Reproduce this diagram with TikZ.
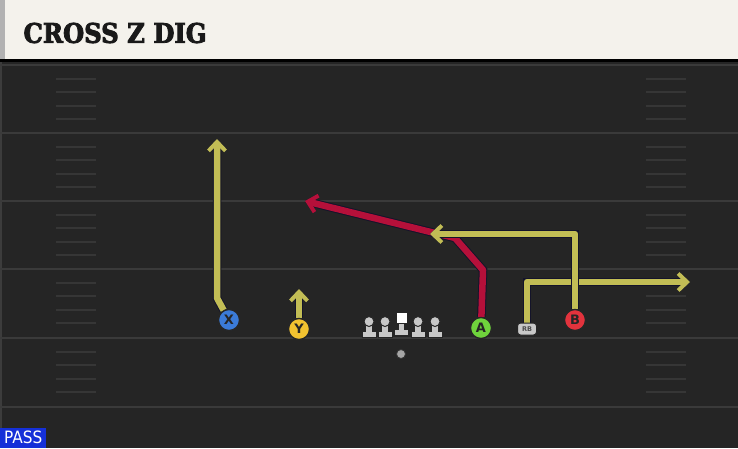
\documentclass[tikz,border=0pt]{standalone}
\usepackage{fontspec}
\setmainfont{DejaVu Sans}
\newfontfamily\titlefont{DejaVu Serif Condensed}[BoldFeatures={FakeBold=3}]
\newfontfamily\tagfont{DejaVu Sans Condensed}
\usepackage{tikz}
\usetikzlibrary{positioning}
\usetikzlibrary{arrows.meta}
\usetikzlibrary{backgrounds}
\usepackage{xcolor}

\definecolor{field}{HTML}{252525}
\definecolor{yardline}{HTML}{3A3A3A}
\definecolor{hashline}{HTML}{363636}
\definecolor{banner}{HTML}{F4F2EC}
\definecolor{routeyellow}{HTML}{C2BD55}
\definecolor{routered}{HTML}{B5103A}
\definecolor{routeedge}{HTML}{14142A}
\definecolor{xblue}{HTML}{3B7BD8}
\definecolor{yyellow}{HTML}{F2C230}
\definecolor{agreen}{HTML}{6FD43C}
\definecolor{bred}{HTML}{E2333D}
\definecolor{lineman}{HTML}{C8C8C8}
\definecolor{passblue}{HTML}{1530D8}

\begin{document}
\begin{tikzpicture}[x=1pt, y=-1pt,
    player/.style={circle, draw=black!85, line width=1.3pt, minimum size=21pt, inner sep=0pt,
                   font=\bfseries\fontsize{13}{13}\selectfont, text=black!85},
    route/.style={line width=6.5pt, line join=round,
                  preaction={draw=routeedge, line width=8.5pt},
                  -{Straight Barb[length=9pt, width=17pt, line width=4pt]}},
    hash/.style={draw=hashline, line width=2pt},
    blocker/.style={fill=lineman, draw=black!85, line width=1pt}]
    \useasboundingbox (0,0) rectangle (738,448);

    % Players
    \node (X) [player, fill=xblue] at (229,320) {X};
    \node (Y) [player, fill=yyellow] at (299,329) {Y};
    \node (A) [player, fill=agreen] at (481,328) {A};
    \node (B) [player, fill=bred] at (575,320) {B};
    \node (RB) [draw=black!85, fill=lineman, line width=1pt, rounded corners=3pt, minimum width=19pt, minimum height=12pt,
                inner sep=0pt, font=\bfseries\fontsize{6.5}{6.5}\selectfont, text=black!70] at (527,329) {RB};

    % Offensive line
    \foreach \lx in {369,385,418,435} {
        \filldraw[blocker]
            (\lx-7,337.5) -- (\lx+7,337.5) -- (\lx+7,331) -- (\lx+3.2,331) -- (\lx+3.2,325)
            -- (\lx-3.2,325) -- (\lx-3.2,331) -- (\lx-7,331) -- cycle;
        \filldraw[blocker] (\lx,321.5) circle (5);
    }
    \filldraw[blocker]
        (394.5,335.5) -- (408.5,335.5) -- (408.5,329) -- (404.7,329) -- (404.7,322)
        -- (398.3,322) -- (398.3,329) -- (394.5,329) -- cycle;
    \node (C) [draw=black!85, fill=white, line width=1pt, minimum size=11pt, inner sep=0pt] at (401.5,318) {};
    \node (ball) [circle, fill=gray!70, draw=black!80, line width=0.8pt, minimum size=9pt, inner sep=0pt] at (401,354) {};

    % Title and play type
    \node (title) [anchor=west, font=\titlefont\bfseries\fontsize{27}{27}\selectfont, text=black!90] at (20,33) {CROSS Z DIG};
    \node (tag) [anchor=south west, fill=passblue, text=white, inner xsep=4pt, inner ysep=2pt,
                 minimum height=20pt, font=\tagfont\fontsize{17}{17}\selectfont] at (0,448) {PASS};

    \begin{scope}[on background layer]
        % Field
        \fill[field] (0,0) rectangle (738,448);
        \fill[banner] (5,0) rectangle (738,59);
        \fill[gray!60] (0,0) rectangle (5,59);
        \fill[black] (0,59) rectangle (738,62);
        \fill[gray!25!field] (0,62) rectangle (2,448);
        \foreach \yl in {65,133,201,269,338,407}
            \draw[yardline, line width=2.6pt] (0,\yl) -- (738,\yl);
        \foreach \yl in {65,133,201,269,338}
            \foreach \k in {1,...,4} {
                \draw[hash] (56,\yl+13.6*\k) -- (96,\yl+13.6*\k);
                \draw[hash] (646,\yl+13.6*\k) -- (686,\yl+13.6*\k);
            }

        % Routes
        \coordinate (xbreak) at (217,298);
        \coordinate (xend) at (217,139);
        \coordinate (yend) at (299,289);
        \coordinate (bbreak) at (575,234);
        \coordinate (bend) at (430,234);
        \coordinate (rbbreak) at (527,282);
        \coordinate (rbend) at (690,282);
        \coordinate (abreak) at (483,270);
        \coordinate (aturn) at (455,238);
        \coordinate (aend) at (305,201);
        \draw[route, routered] (A) -- (abreak) -- (aturn) -- (aend);
        \draw[route, routeyellow] (X) -- (xbreak) -- (xend);
        \draw[route, routeyellow] (Y) -- (yend);
        \draw[route, routeyellow] (RB) -- (rbbreak) -- (rbend);
        \draw[route, routeyellow] (B) -- (bbreak) -- (bend);
    \end{scope}
\end{tikzpicture}
\end{document}
